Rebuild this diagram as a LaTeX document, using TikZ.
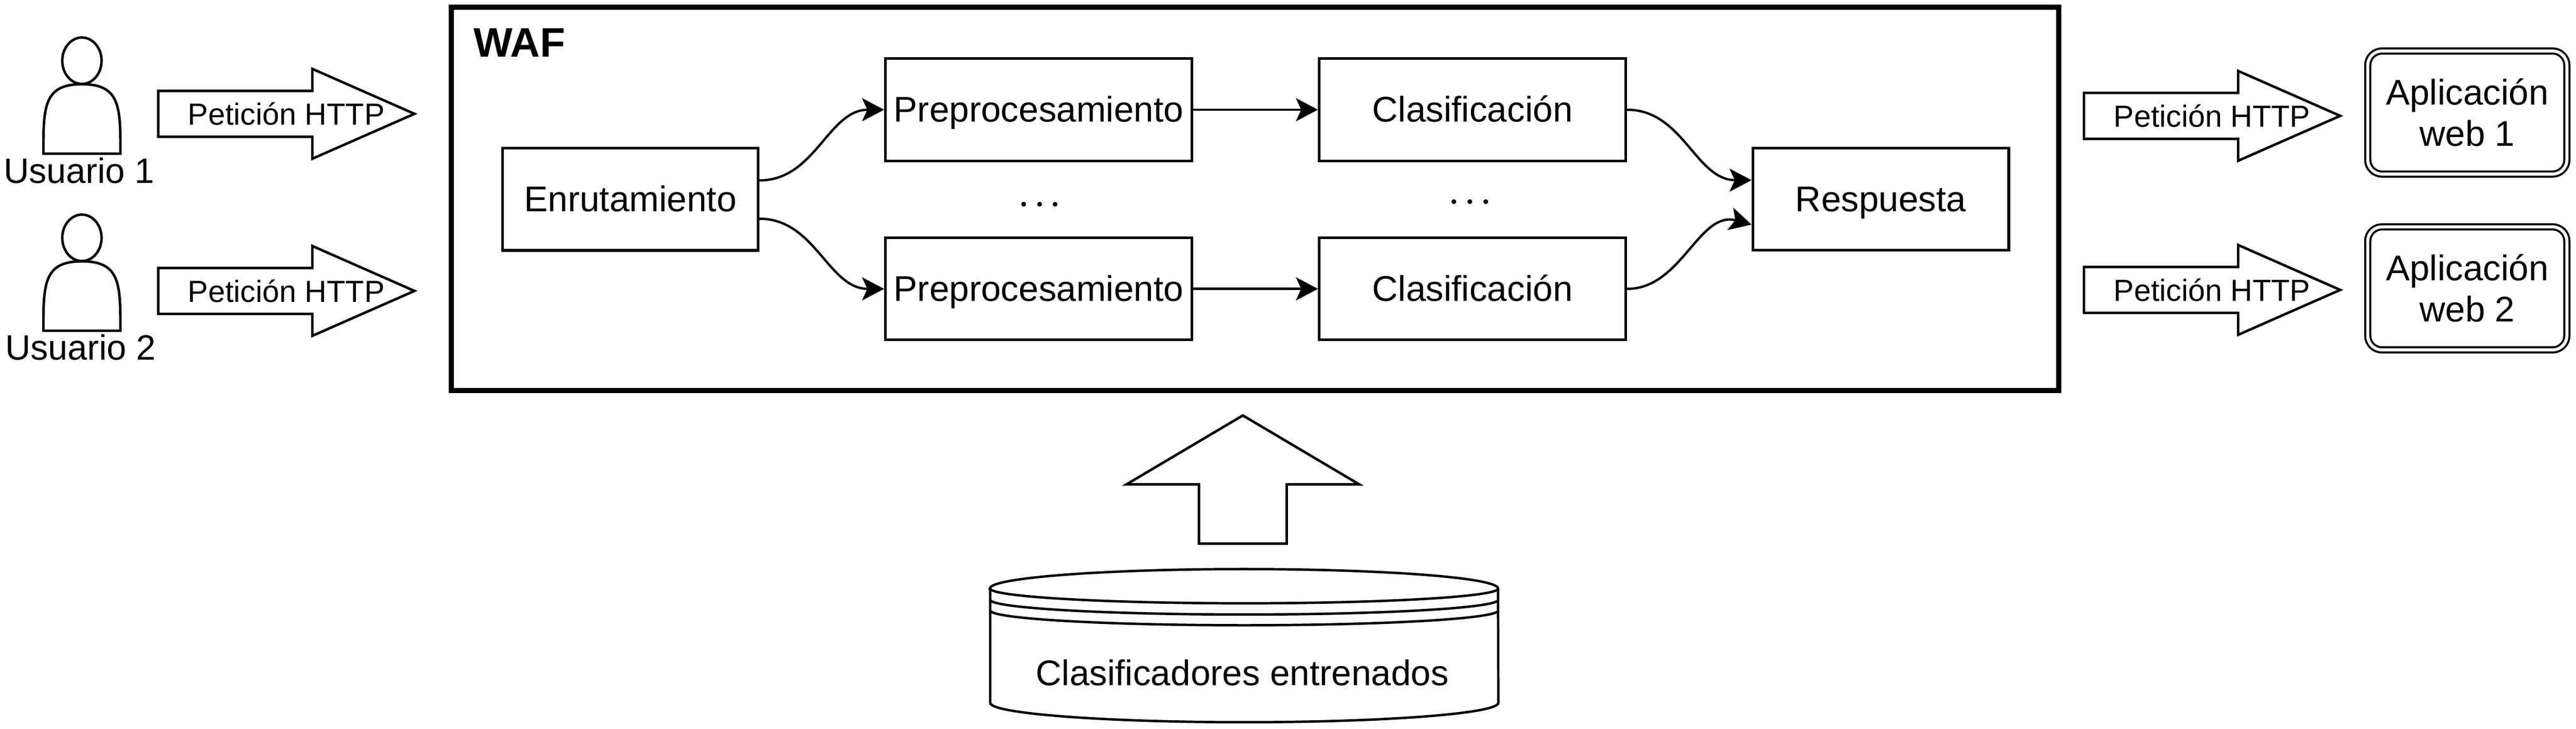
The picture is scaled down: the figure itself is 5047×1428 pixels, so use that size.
\documentclass[tikz,border=0pt]{standalone}
\usepackage{fontspec}
\setmainfont{Liberation Sans}
\newfontfamily\puntofont{Latin Modern Roman}
\usetikzlibrary{arrows.meta}

\tikzset{
  caja/.style={draw,line width=1.5pt,minimum width=6cm,minimum height=2cm,inner sep=0pt,text height=.6cm,text depth=.12cm,font=\fontsize{19.9}{23}\selectfont},
  appweb/.style={draw,line width=1.15pt,double,double distance=.06cm,rounded corners=.28cm,minimum width=3.9cm,minimum height=2.41cm,
    inner sep=0pt,align=center,font=\fontsize{19.9}{23}\selectfont},
  flujo/.style={line width=1.3pt,-{Stealth[length=.43cm,width=.45cm,inset=.1cm]}},
  puntos/.style={anchor=base,inner sep=0pt,font=\fontsize{32}{34}\selectfont\puntofont},
  usuario/.pic={
    \draw[line width=1.4pt] (-75.5,0) .. controls (-75.5,-91) and (-75.5,-136) .. (0,-136)
      .. controls (75.5,-136) and (75.5,-91) .. (75.5,0) -- cycle;
    \draw[line width=1.4pt] (0,-182) ellipse [x radius=38.5,y radius=45.5];
  },
  peticion/.pic={
    \draw[line width=1.4pt] (0,-45) -- (302,-45) -- (302,-88) -- (502,0) -- (302,88) -- (302,45) -- (0,45) -- cycle;
    \node[font=\fontsize{17}{20}\selectfont] (-txt) at (251,0) {Petición HTTP};
  }
}

\begin{document}
\begin{tikzpicture}[x=.01cm,y=-.01cm]
  \useasboundingbox (0,0) rectangle (5047,1428);

  % clientes
  \pic at (160.5,301) {usuario};
  \pic at (160.5,648) {usuario};
  \node[font=\fontsize{19.6}{23}\selectfont] (usr1) at (155,334) {Usuario 1};
  \node[font=\fontsize{19.6}{23}\selectfont] (usr2) at (158,680) {Usuario 2};
  \pic (pet1) at (310,223) {peticion};
  \pic (pet2) at (310,570) {peticion};

  % waf
  \node[draw,line width=2.9pt,minimum width=31.48cm,minimum height=7.5cm] (waf) at (2459,389.5) {};
  \node[anchor=base west,inner sep=0pt,font=\fontsize{23}{27}\selectfont\bfseries] (waftxt) at (927,112) {WAF};

  \node[caja,minimum width=5cm] (enrut) at (1235,390.5) {Enrutamiento};
  \node[caja] (pre1) at (2035,215) {Preprocesamiento};
  \node[caja] (pre2) at (2035,566) {Preprocesamiento};
  \node[caja] (cla1) at (2885,215) {Clasificación};
  \node[caja] (cla2) at (2885,566) {Clasificación};
  \node[caja,minimum width=5.01cm] (resp) at (3685,390) {Respuesta};
  \node[puntos] (pun1) at (2037,405) {.\kern.03cm.\kern.03cm.};
  \node[puntos] (pun2) at (2880,400) {.\kern.03cm.\kern.03cm.};

  \draw[flujo] ([yshift=.37cm]enrut.east) to[out=0,in=180] (pre1.west);
  \draw[flujo] ([yshift=-.38cm]enrut.east) to[out=0,in=180] (pre2.west);
  \draw[flujo] (pre1) -- (cla1);
  \draw[flujo] (pre2) -- (cla2);
  \draw[flujo] (cla1.east) to[out=0,in=180] ([yshift=.37cm]resp.west);
  \draw[flujo] (cla2.east) to[out=0,in=165] ([yshift=-.5cm]resp.west);

  % salida
  \pic (pet3) at (4083,227) {peticion};
  \pic (pet4) at (4083,568) {peticion};
  \node[appweb] (app1) at (4834,220.5) {Aplicación\\web 1};
  \node[appweb] (app2) at (4834,565) {Aplicación\\web 2};

  % clasificadores
  \draw[line width=1.4pt] (2435,814) -- (2663,949) -- (2521,949) -- (2521,1065) -- (2349,1065) -- (2349,949) -- (2207,949) -- cycle;
  \draw[line width=1.35pt] (1940,1153) -- (1940,1377) arc[start angle=180,end angle=360,x radius=4.975cm,y radius=.38cm]
    -- (2935,1153) arc[start angle=0,end angle=180,x radius=4.975cm,y radius=.38cm] -- cycle;
  \foreach \yy in {1153,1175,1196}
    \draw[line width=1.35pt] (1940,\yy) arc[start angle=180,end angle=360,x radius=4.975cm,y radius=.29cm];
  \node[font=\fontsize{19.9}{23}\selectfont] (datos) at (2434,1318) {Clasificadores entrenados};
\end{tikzpicture}
\end{document}
